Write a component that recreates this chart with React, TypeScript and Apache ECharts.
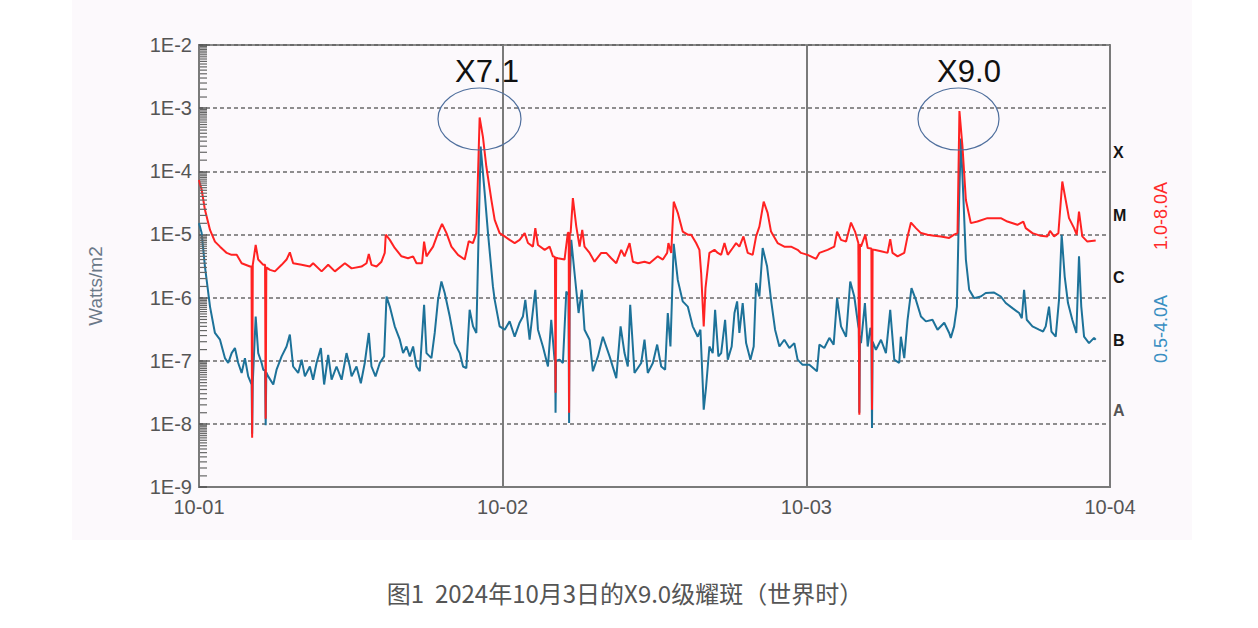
import React, { useEffect, useRef } from 'react';
import * as echarts from 'echarts';

// x: hours since 2024-10-01 00:00 UT; y: flux in W/m2
const dayLabels = ['10-01', '10-02', '10-03', '10-04'];
const yTickLabels = ['1E-9', '1E-8', '1E-7', '1E-6', '1E-5', '1E-4', '1E-3', '1E-2'];
const flareClasses = ['A', 'B', 'C', 'M', 'X'];
const minorMultipliers = [1.5, 2, 2.5, 3, 3.5, 4, 4.5, 5, 5.5, 6, 6.5, 7, 7.5, 8, 8.5, 9, 9.5];
const decades = [1e-9, 1e-8, 1e-7, 1e-6, 1e-5, 1e-4, 1e-3];

const longChannel: [number, number][] = [
  [0, 7.3e-5], [0.21, 5.1e-5], [0.47, 2.45e-5], [0.87, 1.18e-5], [1.26, 7.7e-6], [1.66, 6.4e-6], [2.19, 5.1e-6], [2.58, 4.75e-6], [2.98, 4.75e-6], [3.37, 3.5e-6], [4.03, 3.1e-6], [4.15, 3.1e-6], [4.2, 6e-9], [4.25, 3.3e-6], [4.48, 6.8e-6], [4.68, 4.0e-6], [5.08, 3.3e-6], [5.22, 3.3e-6], [5.27, 1.2e-8], [5.32, 3.0e-6], [5.61, 2.75e-6], [6.0, 2.6e-6], [6.53, 3.3e-6], [6.92, 4.0e-6], [7.18, 5.2e-6], [7.44, 3.5e-6], [8.11, 3.3e-6], [8.76, 3.1e-6], [9.02, 3.5e-6], [9.69, 2.6e-6], [10.21, 3.3e-6], [10.74, 2.6e-6], [11.53, 3.5e-6], [12.06, 2.9e-6], [12.84, 3.1e-6], [13.24, 3.5e-6], [13.42, 4.9e-6], [13.63, 3.3e-6], [14.03, 3.1e-6], [14.42, 3.7e-6], [14.68, 5.1e-6], [14.76, 9.9e-6], [15.08, 8.2e-6], [15.47, 6.1e-6], [16.0, 4.5e-6], [16.52, 4.2e-6], [16.92, 4.5e-6], [17.19, 3.5e-6], [17.63, 3.5e-6], [17.79, 7.7e-6], [17.98, 4.5e-6], [18.5, 6.4e-6], [18.89, 1.05e-5], [19.21, 1.47e-5], [19.56, 1.05e-5], [19.95, 6.4e-6], [20.47, 4.75e-6], [21.0, 4.0e-6], [21.32, 7.8e-6], [21.65, 7.3e-6], [21.92, 1.05e-5], [22.18, 7.1e-4], [22.44, 3.5e-4], [22.71, 1.19e-4], [23.11, 3.5e-5], [23.37, 1.7e-5], [23.76, 1.05e-5], [24.16, 9.3e-6], [24.55, 8.2e-6], [24.95, 7.3e-6], [25.34, 8.2e-6], [25.74, 1.05e-5], [26.0, 7.3e-6], [26.39, 6.4e-6], [26.58, 1.26e-5], [26.79, 6.8e-6], [27.32, 5.7e-6], [27.71, 6.4e-6], [27.97, 4.5e-6], [28.13, 4.4e-6], [28.18, 3.1e-8], [28.23, 4.3e-6], [28.37, 4.2e-6], [28.89, 4.0e-6], [29.15, 1.06e-5], [29.22, 1.06e-5], [29.25, 1.5e-8], [29.3, 1.05e-5], [29.37, 1.05e-5], [29.55, 3.75e-5], [29.82, 1.33e-5], [30.08, 6.4e-6], [30.29, 1.18e-5], [30.47, 6.4e-6], [30.87, 5.1e-6], [31.26, 3.7e-6], [31.79, 5.1e-6], [32.19, 5.1e-6], [32.58, 4.2e-6], [32.98, 3.5e-6], [33.37, 5.7e-6], [33.63, 4.5e-6], [34.03, 7.3e-6], [34.29, 3.7e-6], [34.68, 3.5e-6], [35.21, 3.7e-6], [35.61, 3.5e-6], [36.26, 4.5e-6], [36.66, 4.0e-6], [37.0, 5.1e-6], [37.1, 7.3e-6], [37.32, 5.1e-6], [37.52, 3.3e-5], [37.84, 2.2e-5], [38.23, 1.11e-5], [38.63, 9.9e-6], [38.9, 9.9e-6], [39.29, 7.3e-6], [39.55, 5.7e-6], [39.69, 2.4e-6], [39.89, 3.5e-7], [40.03, 1.41e-6], [40.34, 5.1e-6], [40.74, 5.7e-6], [41.0, 5.1e-6], [41.27, 4.75e-6], [41.53, 7.3e-6], [41.79, 4.75e-6], [42.18, 6.1e-6], [42.45, 7.3e-6], [42.71, 6.4e-6], [43.03, 9.3e-6], [43.37, 5.1e-6], [43.76, 4.75e-6], [44.03, 9.3e-6], [44.29, 1.33e-5], [44.63, 3.3e-5], [44.94, 2.2e-5], [45.21, 1.11e-5], [45.73, 7.3e-6], [46.26, 6.4e-6], [46.79, 6.4e-6], [47.31, 5.7e-6], [47.58, 5.1e-6], [48.1, 4.75e-6], [48.77, 4.1e-6], [49.03, 5.1e-6], [49.68, 5.7e-6], [50.21, 6.4e-6], [50.43, 1.11e-5], [50.74, 8.2e-6], [51.14, 7.7e-6], [51.53, 1.54e-5], [51.85, 1.11e-5], [52.11, 7.3e-6], [52.15, 7.2e-6], [52.19, 1.4e-8], [52.24, 7.0e-6], [52.32, 6.4e-6], [52.66, 9.9e-6], [52.85, 6.1e-6], [53.14, 6.0e-6], [53.19, 1.68e-8], [53.24, 5.8e-6], [53.37, 5.7e-6], [53.9, 5.4e-6], [54.42, 5.1e-6], [54.63, 8.4e-6], [54.81, 5.1e-6], [55.21, 4.5e-6], [55.74, 5.1e-6], [56.0, 9.3e-6], [56.27, 1.54e-5], [56.66, 1.26e-5], [57.06, 1.05e-5], [57.58, 9.9e-6], [58.1, 9.5e-6], [58.63, 9.3e-6], [59.29, 8.8e-6], [59.68, 9.9e-6], [59.95, 1.05e-5], [60.1, 9.0e-4], [60.34, 2.46e-4], [60.61, 3.5e-5], [61.0, 1.51e-5], [61.52, 1.6e-5], [62.31, 1.81e-5], [63.37, 1.81e-5], [63.89, 1.6e-5], [64.68, 1.42e-5], [65.15, 1.6e-5], [65.34, 1.26e-5], [65.87, 1.05e-5], [66.53, 9.5e-6], [67.05, 9.3e-6], [67.26, 1.14e-5], [67.58, 9.3e-6], [67.92, 1.05e-5], [68.23, 6.9e-5], [68.5, 3.5e-5], [68.76, 1.81e-5], [69.16, 1.26e-5], [69.37, 9.9e-6], [69.55, 2.3e-5], [69.81, 9.3e-6], [70.21, 7.7e-6], [70.87, 8.0e-6],
];

const shortChannel: [number, number][] = [
  [0, 1.51e-5], [0.21, 1.05e-5], [0.47, 3.1e-6], [0.87, 7.2e-7], [1.26, 2.75e-7], [1.66, 2.15e-7], [2.05, 1.1e-7], [2.31, 9.2e-8], [2.58, 1.32e-7], [2.84, 1.59e-7], [3.1, 9.2e-8], [3.37, 6.4e-8], [3.63, 1.1e-7], [3.89, 5.65e-8], [4.16, 4.2e-8], [4.2, 7e-9], [4.25, 4.5e-8], [4.48, 5.0e-7], [4.68, 1.32e-7], [4.95, 9.2e-8], [5.08, 7.2e-8], [5.22, 7e-8], [5.27, 9.5e-9], [5.32, 6.5e-8], [5.47, 5.65e-8], [5.87, 4.2e-8], [6.13, 7.2e-8], [6.53, 1.17e-7], [6.92, 1.68e-7], [7.18, 2.6e-7], [7.44, 8.1e-8], [7.84, 6.4e-8], [8.11, 1.04e-7], [8.37, 5.65e-8], [8.76, 8.1e-8], [9.02, 5.0e-8], [9.29, 9.2e-8], [9.63, 1.59e-7], [9.89, 4.2e-8], [10.21, 1.24e-7], [10.48, 5.0e-8], [10.87, 8.1e-8], [11.27, 5.0e-8], [11.66, 1.32e-7], [11.92, 8.1e-8], [12.06, 5.65e-8], [12.45, 8.1e-8], [12.79, 4.4e-8], [13.1, 9.2e-8], [13.42, 2.75e-7], [13.63, 8.1e-8], [13.95, 5.65e-8], [14.29, 9.2e-8], [14.63, 1.17e-7], [14.82, 1.04e-6], [15.08, 7.2e-7], [15.47, 3.5e-7], [15.87, 2.15e-7], [16.13, 1.32e-7], [16.4, 1.68e-7], [16.66, 1.17e-7], [16.92, 1.68e-7], [17.19, 8.1e-8], [17.45, 6.8e-8], [17.79, 7.7e-7], [17.98, 1.32e-7], [18.37, 1.1e-7], [18.63, 2.75e-7], [18.89, 9.2e-7], [19.16, 1.8e-6], [19.42, 1.18e-6], [19.82, 5.0e-7], [20.21, 1.9e-7], [20.61, 1.32e-7], [20.87, 8.1e-8], [21.13, 7.6e-8], [21.39, 6.4e-7], [21.66, 3.5e-7], [21.92, 2.75e-7], [22.1, 1.05e-5], [22.26, 2.46e-4], [22.58, 4.5e-5], [22.84, 1.05e-5], [23.23, 1.5e-6], [23.37, 9.2e-7], [23.76, 3.5e-7], [24.16, 3.1e-7], [24.55, 4.2e-7], [24.95, 2.4e-7], [25.34, 4.0e-7], [25.6, 5.0e-7], [25.79, 9.2e-7], [26.13, 2.15e-7], [26.58, 1.33e-6], [26.79, 3.1e-7], [27.18, 1.68e-7], [27.58, 8.1e-8], [27.84, 4.45e-7], [28.1, 1.04e-7], [28.15, 1.0e-7], [28.18, 1.5e-8], [28.22, 1.0e-7], [28.5, 1.04e-7], [28.76, 9.2e-8], [29.03, 1.25e-6], [29.2, 1.1e-6], [29.25, 1.03e-8], [29.3, 1.5e-6], [29.42, 8.2e-6], [29.68, 2.45e-6], [30.0, 5.7e-7], [30.26, 1.33e-6], [30.47, 3.1e-7], [30.87, 2.15e-7], [31.13, 6.8e-8], [31.53, 1.17e-7], [31.92, 2.4e-7], [32.45, 1.17e-7], [32.98, 5.3e-8], [33.32, 3.5e-7], [33.63, 1.32e-7], [33.89, 8.1e-8], [34.08, 7.7e-7], [34.42, 6.4e-8], [34.95, 9.2e-8], [35.21, 2.15e-7], [35.47, 6.4e-8], [35.87, 9.2e-8], [36.21, 1.8e-7], [36.53, 8.1e-8], [36.84, 7.2e-8], [37.05, 5.7e-7], [37.26, 1.68e-7], [37.52, 7.1e-6], [37.84, 1.9e-6], [38.23, 8.7e-7], [38.63, 7.2e-7], [39.02, 3.5e-7], [39.42, 2.4e-7], [39.63, 3.1e-7], [39.81, 4.4e-8], [39.89, 1.68e-8], [40.08, 3.9e-8], [40.34, 1.68e-7], [40.6, 1.32e-7], [40.79, 6.4e-7], [41.05, 1.17e-7], [41.27, 1.32e-7], [41.58, 4.45e-7], [41.79, 1.04e-7], [42.1, 1.68e-7], [42.32, 5.7e-7], [42.53, 8.7e-7], [42.71, 2.75e-7], [42.97, 8.2e-7], [43.24, 1.9e-7], [43.58, 1.04e-7], [43.84, 1.68e-7], [44.03, 1.7e-6], [44.29, 1.04e-6], [44.55, 6.1e-6], [44.9, 3.1e-6], [45.21, 9.2e-7], [45.53, 3.1e-7], [45.87, 1.68e-7], [46.26, 2.15e-7], [46.66, 1.59e-7], [47.05, 1.9e-7], [47.31, 1.04e-7], [47.71, 8.6e-8], [48.24, 8.6e-8], [48.84, 6.8e-8], [49.03, 1.8e-7], [49.42, 1.59e-7], [49.82, 2.3e-7], [50.16, 1.8e-7], [50.43, 9.8e-7], [50.74, 3.5e-7], [51.14, 2.4e-7], [51.47, 1.8e-6], [51.79, 1.04e-6], [52.11, 3.5e-7], [52.15, 3.2e-7], [52.19, 1.5e-8], [52.24, 2.5e-7], [52.32, 1.9e-7], [52.63, 8.2e-7], [52.85, 1.68e-7], [53.06, 3.3e-7], [53.14, 3e-7], [53.19, 8.6e-9], [53.24, 2e-7], [53.5, 1.49e-7], [53.9, 2.15e-7], [54.29, 1.32e-7], [54.63, 6.4e-7], [54.95, 1.04e-7], [55.34, 9.2e-8], [55.47, 2.4e-7], [55.74, 1.1e-7], [56.0, 4.45e-7], [56.31, 1.41e-6], [56.66, 9.2e-7], [57.06, 5.0e-7], [57.45, 4.2e-7], [57.97, 4.45e-7], [58.37, 3.1e-7], [58.9, 4.0e-7], [59.29, 2.75e-7], [59.42, 2.3e-7], [59.68, 3.5e-7], [59.9, 7.2e-7], [60.08, 3.5e-5], [60.21, 3.3e-4], [60.42, 3.5e-5], [60.61, 4.0e-6], [60.87, 1.33e-6], [61.26, 9.8e-7], [61.79, 1.04e-6], [62.18, 1.18e-6], [62.84, 1.2e-6], [63.37, 1.04e-6], [63.76, 8.2e-7], [64.29, 6.8e-7], [64.82, 5.7e-7], [65.03, 4.7e-7], [65.21, 1.33e-6], [65.42, 4.45e-7], [65.87, 3.5e-7], [66.39, 3.1e-7], [66.71, 2.9e-7], [66.92, 3.5e-7], [67.18, 7.2e-7], [67.37, 2.9e-7], [67.71, 2.4e-7], [67.97, 9.2e-7], [68.18, 9.9e-6], [68.42, 2.15e-6], [68.68, 8.2e-7], [69.02, 4.45e-7], [69.34, 2.75e-7], [69.55, 4.5e-6], [69.73, 7.2e-7], [69.95, 2.4e-7], [70.34, 1.9e-7], [70.74, 2.3e-7], [70.87, 2.15e-7],
];

const FONT = '"Liberation Sans", Arial, sans-serif';

export default function App() {
  const ref = useRef<HTMLDivElement>(null);

  useEffect(() => {
    const chart = echarts.init(ref.current!, null, { renderer: 'svg' });

    const minorTicks: number[][] = [];
    decades.forEach((d) => minorMultipliers.forEach((m) => minorTicks.push([0, d * m])));

    const classY = [410, 340, 277, 215, 152];

    const option: any = {
      animation: false,
      backgroundColor: '#ffffff',
      grid: {
        left: 199,
        top: 45,
        right: 148,
        bottom: 141,
        show: true,
        borderColor: '#8a8a8a',
        borderWidth: 2,
      },
      xAxis: {
        type: 'value',
        min: 0,
        max: 72,
        interval: 24,
        axisLine: { show: true, lineStyle: { color: '#7a7a7a', width: 2 } },
        axisTick: { show: false },
        axisLabel: {
          color: '#555',
          fontSize: 20,
          fontFamily: FONT,
          margin: 10,
          formatter: (v: number) => dayLabels[Math.round(v / 24)] ?? '',
        },
        splitLine: { show: true, lineStyle: { color: '#7a7a7a', width: 2, type: 'solid' } },
      },
      yAxis: {
        type: 'log',
        logBase: 10,
        min: 1e-9,
        max: 1e-2,
        interval: 1,
        splitNumber: 7,
        axisLine: { show: true, lineStyle: { color: '#7a7a7a', width: 2 } },
        axisTick: { show: true, inside: true, length: 8, lineStyle: { color: '#555', width: 1.5 } },
        axisLabel: {
          color: '#555',
          fontSize: 20,
          fontFamily: FONT,
          margin: 7,
          formatter: (v: number) => yTickLabels[Math.round(Math.log10(v)) + 9] ?? '',
        },
        splitLine: { show: true, lineStyle: { color: '#6a6a6a', width: 1.5, type: [4, 3] } },
      },
      series: [
        {
          name: 'minorTicks',
          type: 'scatter',
          silent: true,
          clip: false,
          z: 6,
          data: minorTicks,
          symbol: 'rect',
          symbolSize: [7, 1.2],
          symbolOffset: [4.5, 0],
          itemStyle: { color: '#666', opacity: 1 },
          emphasis: { disabled: true },
        },
        {
          name: '0.5-4.0A',
          type: 'line',
          data: shortChannel,
          showSymbol: false,
          z: 4,
          lineStyle: { color: '#1d7299', width: 2 },
          itemStyle: { color: '#1d7299' },
        },
        {
          name: '1.0-8.0A',
          type: 'line',
          data: longChannel,
          showSymbol: false,
          z: 5,
          lineStyle: { color: '#ff2222', width: 2 },
          itemStyle: { color: '#ff2222' },
        },
      ],
      graphic: [
        {
          type: 'rect',
          z: -100,
          silent: true,
          shape: { x: 72, y: 0, width: 1120, height: 540 },
          style: { fill: '#fcf9fc' },
        },
        ...flareClasses.map((c, i) => ({
          type: 'text',
          x: 1113,
          y: classY[i],
          z: 100,
          style: {
            text: c,
            fill: c === 'A' ? '#555' : '#151515',
            font: `bold 16px ${FONT}`,
            align: 'left',
            verticalAlign: 'middle',
            textAlign: 'left',
            textVerticalAlign: 'middle',
          },
        })),
        {
          type: 'text',
          x: 1161,
          y: 216,
          rotation: Math.PI / 2,
          z: 100,
          style: {
            text: '1.0-8.0A',
            fill: '#ff2a2a',
            font: `18px ${FONT}`,
            align: 'center',
            verticalAlign: 'middle',
            textAlign: 'center',
            textVerticalAlign: 'middle',
          },
        },
        {
          type: 'text',
          x: 1161,
          y: 329,
          rotation: Math.PI / 2,
          z: 100,
          style: {
            text: '0.5-4.0A',
            fill: '#3a8fc2',
            font: `18px ${FONT}`,
            align: 'center',
            verticalAlign: 'middle',
            textAlign: 'center',
            textVerticalAlign: 'middle',
          },
        },
        {
          type: 'text',
          x: 95,
          y: 286,
          rotation: Math.PI / 2,
          z: 100,
          style: {
            text: 'Watts/m2',
            fill: '#6a7888',
            font: `19px ${FONT}`,
            align: 'center',
            verticalAlign: 'middle',
            textAlign: 'center',
            textVerticalAlign: 'middle',
          },
        },
        {
          type: 'text',
          x: 487,
          y: 71,
          z: 100,
          style: {
            text: 'X7.1',
            fill: '#111',
            font: `31px ${FONT}`,
            align: 'center',
            verticalAlign: 'middle',
            textAlign: 'center',
            textVerticalAlign: 'middle',
          },
        },
        {
          type: 'text',
          x: 969,
          y: 71,
          z: 100,
          style: {
            text: 'X9.0',
            fill: '#111',
            font: `31px ${FONT}`,
            align: 'center',
            verticalAlign: 'middle',
            textAlign: 'center',
            textVerticalAlign: 'middle',
          },
        },
        {
          type: 'ellipse',
          z: 100,
          shape: { cx: 479.5, cy: 119, rx: 41.5, ry: 31 },
          style: { fill: 'none', stroke: '#4f6f9d', lineWidth: 1.2 },
        },
        {
          type: 'ellipse',
          z: 100,
          shape: { cx: 958.5, cy: 119, rx: 40.5, ry: 31 },
          style: { fill: 'none', stroke: '#4f6f9d', lineWidth: 1.2 },
        },
        {
          type: 'text',
          x: 625,
          y: 592,
          z: 100,
          style: {
            text: '图1  2024年10月3日的X9.0级耀斑（世界时）',
            fill: '#555',
            font: `24px "Noto Sans CJK SC", sans-serif`,
            align: 'center',
            verticalAlign: 'middle',
            textAlign: 'center',
            textVerticalAlign: 'middle',
          },
        },
      ],
    };

    chart.setOption(option);
    return () => chart.dispose();
  }, []);

  return (
    <div
      ref={ref}
      style={{ position: 'absolute', left: 0, top: 0, width: 1258, height: 628 }}
    />
  );
}
